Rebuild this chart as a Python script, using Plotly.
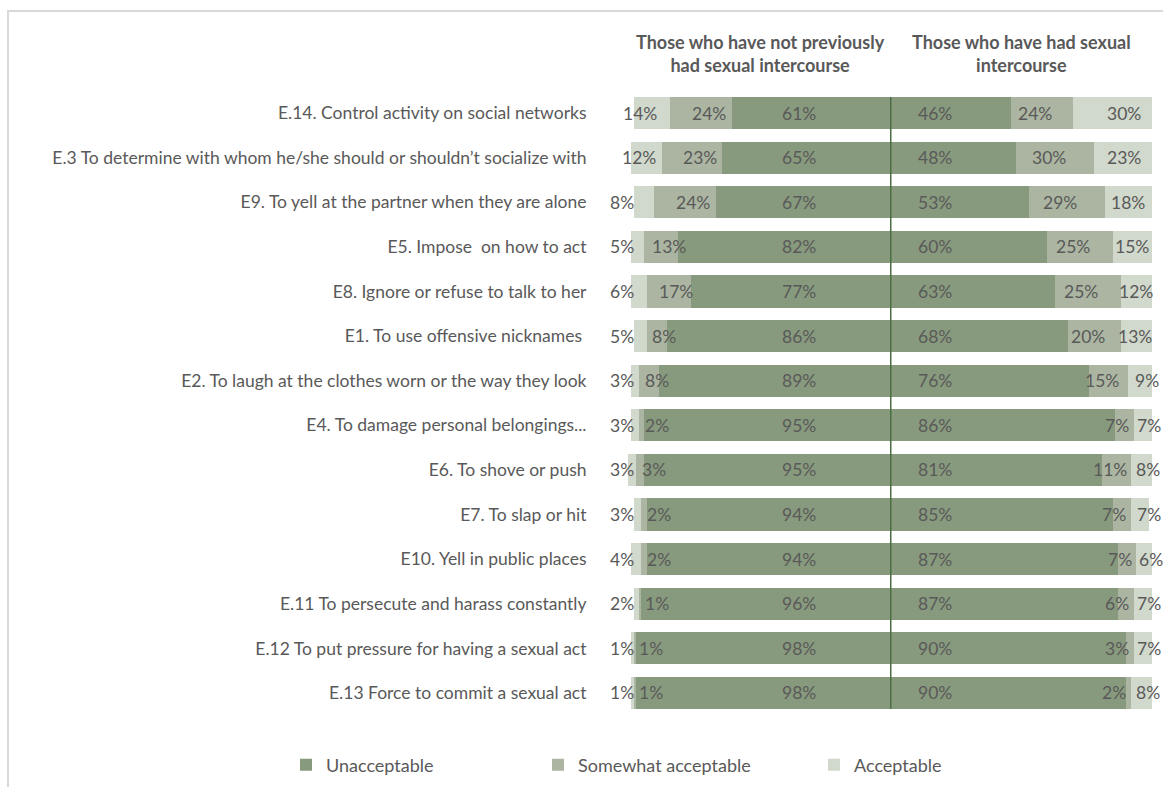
import plotly.graph_objects as go

# Survey items, top to bottom
items = [
    "E.14. Control activity on social networks",
    "E.3 To determine with whom he/she should or shouldn’t socialize with",
    "E9. To yell at the partner when they are alone",
    "E5. Impose  on how to act",
    "E8. Ignore or refuse to talk to her",
    "E1. To use offensive nicknames ",
    "E2. To laugh at the clothes worn or the way they look",
    "E4. To damage personal belongings...",
    "E6. To shove or push",
    "E7. To slap or hit",
    "E10. Yell in public places",
    "E.11 To persecute and harass constantly",
    "E.12 To put pressure for having a sexual act",
    "E.13 Force to commit a sexual act",
]

# Those who have not previously had sexual intercourse (%)
no_unacceptable = [61, 65, 67, 82, 77, 86, 89, 95, 95, 94, 94, 96, 98, 98]
no_somewhat = [24, 23, 24, 13, 17, 8, 8, 2, 3, 2, 2, 1, 1, 1]
no_acceptable = [14, 12, 8, 5, 6, 5, 3, 3, 3, 3, 4, 2, 1, 1]

# Those who have had sexual intercourse (%)
yes_unacceptable = [46, 48, 53, 60, 63, 68, 76, 86, 81, 85, 87, 87, 90, 90]
yes_somewhat = [24, 30, 29, 25, 25, 20, 15, 7, 11, 7, 7, 6, 3, 2]
yes_acceptable = [30, 23, 18, 15, 12, 13, 9, 7, 8, 7, 6, 7, 7, 8]

series_names = ["Unacceptable", "Somewhat acceptable", "Acceptable"]
panel_titles = [
    "Those who have not previously<br>had sexual intercourse",
    "Those who have had sexual<br>intercourse",
]

COLORS = ["#889a7d", "#abb5a1", "#d1d8cc"]
TEXT = "#595959"
FONT = "Lato"
FS = 17.5
W, H = 1163, 787

# pixel layout helpers
def px(x):
    return x / W

def py(y):
    return 1 - y / H

left_x0, mid_x, right_x1 = 631, 890, 1152
plot_top, plot_bottom = 90.7, 715.3
left_span = 108  # left axis runs a little past 100% so outer labels stay visible
left_dom0 = mid_x - left_span * (mid_x - left_x0) / 100

fig = go.Figure()

left_sets = [no_unacceptable, no_somewhat, no_acceptable]
right_sets = [yes_unacceptable, yes_somewhat, yes_acceptable]
legends = ["legend", "legend2", "legend3"]

for i, name in enumerate(series_names):
    fig.add_trace(go.Bar(
        y=items, x=left_sets[i], orientation="h", name=name,
        marker=dict(color=COLORS[i], line=dict(width=0)),
        xaxis="x", yaxis="y", legend=legends[i], showlegend=True,
        hoverinfo="skip",
    ))
for i, name in enumerate(series_names):
    fig.add_trace(go.Bar(
        y=items, x=right_sets[i], orientation="h", name=name,
        marker=dict(color=COLORS[i], line=dict(width=0)),
        xaxis="x2", yaxis="y", showlegend=False,
        hoverinfo="skip",
    ))

annotations = []

def lab(xref, x, y, value, anchor):
    annotations.append(dict(
        xref=xref, yref="y", x=x, y=y, text=f"{value}%", showarrow=False,
        xanchor=anchor, yanchor="middle",
        font=dict(family=FONT, size=FS, color=TEXT),
    ))

for k, item in enumerate(items):
    # left group: bars grow leftwards from the centre line
    u, s, a = no_unacceptable[k], no_somewhat[k], no_acceptable[k]
    lab("x", 35, item, u, "center")
    if s >= 10:
        lab("x", u + s / 2 - 3, item, s, "center")
    else:
        lab("x", u + s - 1.5, item, s, "left")
    if a >= 10:
        lab("x", 100 - a / 4, item, a, "center")
    else:
        lab("x", 103.5, item, a, "center")

    # right group: bars grow rightwards from the centre line
    u, s, a = yes_unacceptable[k], yes_somewhat[k], yes_acceptable[k]
    lab("x2", 17, item, u, "center")
    if s >= 10:
        lab("x2", u + s / 2 - 2.5, item, s, "center")
    else:
        lab("x2", u + s - 1, item, s, "right")
    if a >= 10:
        lab("x2", max(89.5, 100 - a / 2), item, a, "center")
    else:
        lab("x2", 100 - a / 2 + 2.5, item, a, "center")

# panel headings
for title, cx in zip(panel_titles, [(left_x0 + mid_x) / 2, (mid_x + right_x1) / 2]):
    annotations.append(dict(
        xref="paper", yref="paper", x=px(cx), y=py(29), text=f"<b>{title}</b>",
        showarrow=False, xanchor="center", yanchor="top", align="center",
        font=dict(family=FONT, size=18, color=TEXT),
    ))

shapes = [
    # outer frame
    dict(type="rect", xref="paper", yref="paper", x0=px(8), x1=1.1, y0=-0.1, y1=py(11),
         line=dict(color="#d9d9d9", width=2), fillcolor="rgba(0,0,0,0)", layer="below"),
    # dividing line between the two groups
    dict(type="line", xref="x2", yref="y", x0=0, x1=0, y0=-0.36, y1=13.36,
         line=dict(color="#4b6f43", width=3)),
]

legend_style = dict(
    orientation="h", yanchor="middle", xanchor="left", y=py(765),
    font=dict(family=FONT, size=18, color=TEXT), bgcolor="rgba(0,0,0,0)",
)

fig.update_layout(
    width=W, height=H,
    margin=dict(l=0, r=0, t=0, b=0),
    paper_bgcolor="white", plot_bgcolor="white",
    barmode="stack", bargap=0.28,
    font=dict(family=FONT, size=FS, color=TEXT),
    xaxis=dict(domain=[px(left_dom0), px(mid_x)], range=[left_span, 0], visible=False),
    xaxis2=dict(domain=[px(mid_x), px(right_x1)], range=[0, 100], visible=False),
    yaxis=dict(
        domain=[py(plot_bottom), py(plot_top)], type="category",
        categoryorder="array", categoryarray=items, range=[13.5, -0.5],
        showgrid=False, zeroline=False, showline=False,
        ticks="outside", ticklen=40 - (left_x0 - left_dom0), tickcolor="rgba(0,0,0,0)",
        tickfont=dict(family=FONT, size=FS, color=TEXT),
    ),
    legend=dict(x=px(286), **legend_style),
    legend2=dict(x=px(538), **legend_style),
    legend3=dict(x=px(814), **legend_style),
    annotations=annotations,
    shapes=shapes,
)

fig.write_html("out.html")
